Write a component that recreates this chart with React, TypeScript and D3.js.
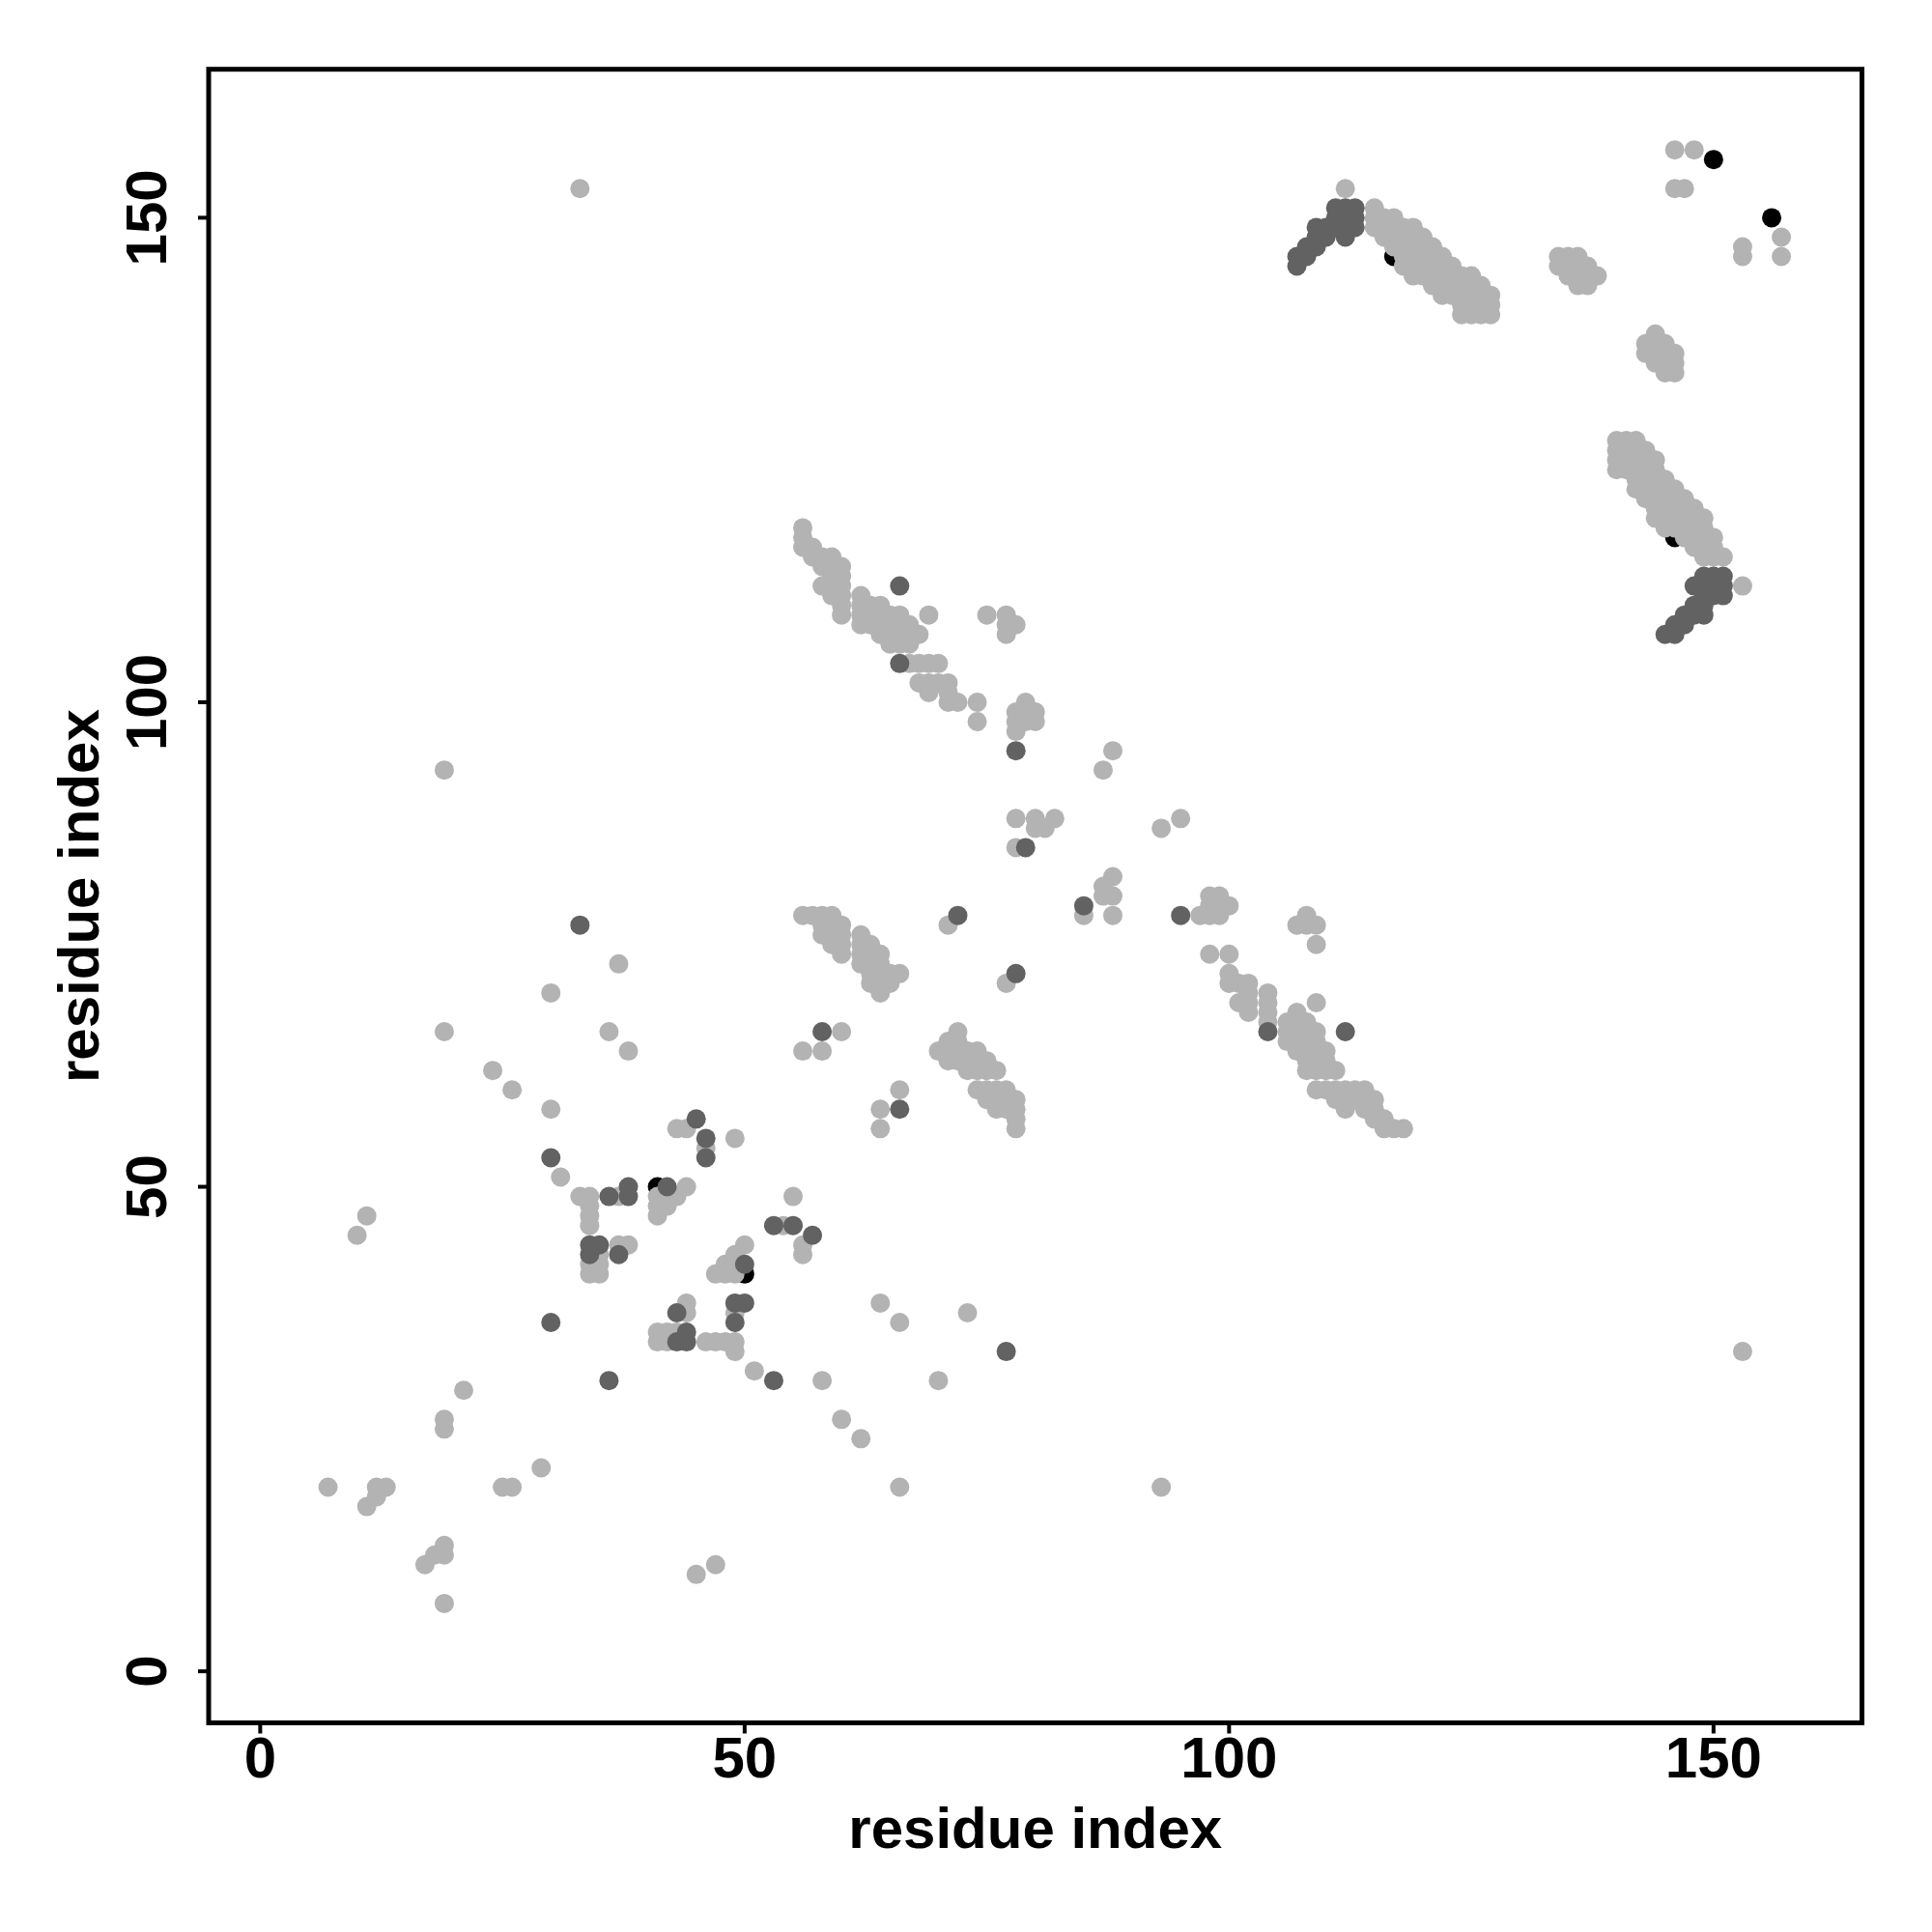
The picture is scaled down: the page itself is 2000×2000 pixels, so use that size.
import * as d3 from "d3";

// residue pairs [i, j] with i < j; a contact map shows each pair at (i, j) and at (j, i)
const contactsLight: [number, number][] = [
  [7, 19], [11, 17], [12, 18], [12, 19], [13, 19], [19, 25], [19, 26], [21, 29], [10, 45], [11, 47],
  [19, 66], [19, 93], [24, 62], [26, 60], [30, 58], [30, 70], [31, 51], [33, 49], [34, 49], [34, 48],
  [34, 47], [34, 46], [33, 153], [34, 41], [35, 41], [34, 42], [35, 42], [35, 43], [37, 44], [38, 44],
  [37, 49], [36, 66], [37, 73], [38, 64], [41, 47], [41, 48], [42, 48], [41, 49], [42, 49], [43, 49],
  [44, 50], [43, 56], [44, 56], [46, 54], [49, 55],
  [56, 78], [57, 78], [58, 78], [59, 78], [58, 77], [59, 77], [60, 77], [58, 76], [59, 76], [60, 76],
  [59, 75], [60, 75], [60, 74], [62, 76], [62, 75], [63, 75], [62, 74], [63, 74], [64, 74], [62, 73],
  [63, 73], [64, 73], [63, 72], [64, 72], [65, 72], [66, 72], [63, 71], [64, 71], [65, 71], [64, 70],
  [56, 64], [58, 64], [60, 66], [71, 77],
  [56, 118], [56, 117], [56, 116], [57, 116], [57, 115], [58, 115], [59, 115], [58, 114], [59, 114], [60, 114],
  [59, 113], [60, 113], [58, 112], [59, 112], [60, 112], [59, 111], [60, 111], [60, 110], [60, 109],
  [62, 111], [62, 110], [62, 109], [62, 108], [63, 110], [63, 109], [63, 108], [64, 110], [64, 109], [64, 108],
  [64, 107], [65, 109], [65, 108], [65, 107], [65, 106], [66, 109], [66, 108], [66, 107], [66, 106], [67, 108],
  [67, 107], [67, 106], [68, 107],
  [67, 104], [68, 104], [69, 104], [70, 104], [68, 102], [69, 102], [70, 102], [71, 102], [69, 101], [71, 101],
  [71, 100], [72, 100], [69, 109], [74, 100], [74, 98],
  [75, 109], [77, 109], [77, 108], [78, 108], [77, 107],
  [79, 100], [78, 99], [79, 99], [80, 99], [78, 98], [79, 98], [80, 98], [78, 97],
  [88, 95], [87, 93], [78, 88], [80, 88], [82, 88], [80, 87], [81, 87], [78, 85],
  [112, 153], [112, 150], [146, 157], [148, 157], [146, 153], [147, 153],
  [134, 146], [135, 146], [136, 146], [134, 145], [135, 145], [136, 145], [137, 145], [135, 144], [136, 144],
  [137, 144], [138, 144], [136, 143], [137, 143],
  [115, 151], [115, 150], [115, 149],
  [116, 150], [116, 149], [116, 148],
  [117, 150], [117, 149], [117, 148], [117, 147],
  [118, 149], [118, 148], [118, 147], [118, 146], [118, 145],
  [119, 149], [119, 148], [119, 147], [119, 146], [119, 145], [119, 144],
  [120, 148], [120, 147], [120, 146], [120, 145], [120, 144],
  [121, 147], [121, 146], [121, 145], [121, 144], [121, 143],
  [122, 146], [122, 145], [122, 144], [122, 143], [122, 142],
  [123, 145], [123, 144], [123, 143], [123, 142],
  [124, 144], [124, 143], [124, 142], [124, 141], [124, 140],
  [125, 144], [125, 143], [125, 142], [125, 141], [125, 140],
  [126, 143], [126, 142], [126, 141], [126, 140],
  [127, 142], [127, 141], [127, 140],
];

const contactsDark: [number, number][] = [
  [30, 36], [30, 53], [33, 77], [34, 43], [34, 44], [35, 44], [37, 43], [36, 49], [38, 49], [38, 50],
  [42, 50], [45, 57], [46, 53], [46, 55], [58, 66], [66, 104], [66, 112], [72, 78], [78, 95], [79, 85],
  [107, 145], [107, 146], [108, 146], [108, 147], [109, 147], [109, 148], [109, 149], [110, 148], [110, 149],
  [111, 149], [111, 150], [111, 151], [112, 151], [113, 151], [113, 150], [113, 149], [112, 149], [112, 148],
];

const contactsBlack: [number, number][] = [[41, 50], [117, 146], [150, 156]];

const TICKS = [0, 50, 100, 150];
const AXIS_TITLE = "residue index";

const W = 2000, H = 2000;
const BOX = { l: 216, r: 1927.5, t: 71.7, b: 1783.5 };
const DOMAIN: [number, number] = [-5.32, 165.32];
const FONT = "'Liberation Sans', Arial, Helvetica, sans-serif";

export default function App() {
  const x = d3.scaleLinear().domain(DOMAIN).range([BOX.l, BOX.r]);
  const y = d3.scaleLinear().domain(DOMAIN).range([BOX.b, BOX.t]);
  const R = 10;
  const layer = (pairs: [number, number][], fill: string, tag: string) =>
    pairs.flatMap(([i, j], k) => [
      <circle key={`${tag}${k}a`} cx={x(i)} cy={y(j)} r={R} fill={fill} />,
      <circle key={`${tag}${k}b`} cx={x(j)} cy={y(i)} r={R} fill={fill} />,
    ]);
  const midX = (BOX.l + BOX.r) / 2, midY = (BOX.t + BOX.b) / 2;

  return (
    <svg width={W} height={H} viewBox={`0 0 ${W} ${H}`}
      style={{ position: "absolute", left: 0, top: 0, display: "block", background: "#fff" }}
      fontFamily={FONT} fontWeight="bold">
      <rect x={0} y={0} width={W} height={H} fill="#fff" />
      {layer(contactsBlack, "#000000", "k")}
      {layer(contactsLight, "#b3b3b3", "l")}
      {layer(contactsDark, "#626262", "d")}
      <rect x={BOX.l} y={BOX.t} width={BOX.r - BOX.l} height={BOX.b - BOX.t} fill="none" stroke="#000" strokeWidth={5} />
      {TICKS.map(t => (
        <g key={`x${t}`}>
          <line x1={x(t)} x2={x(t)} y1={BOX.b} y2={BOX.b + 11} stroke="#000" strokeWidth={4} />
          <text x={x(t)} y={1840} textAnchor="middle" fontSize={60}>{t}</text>
        </g>
      ))}
      {TICKS.map(t => (
        <g key={`y${t}`}>
          <line x1={BOX.l - 11} x2={BOX.l} y1={y(t)} y2={y(t)} stroke="#000" strokeWidth={4} />
          <text transform={`translate(172 ${y(t)}) rotate(-90)`} textAnchor="middle" fontSize={60}>{t}</text>
        </g>
      ))}
      <text x={midX} y={1913} textAnchor="middle" fontSize={60}>{AXIS_TITLE}</text>
      <text transform={`translate(102 ${midY}) rotate(-90)`} textAnchor="middle" fontSize={60}>{AXIS_TITLE}</text>
    </svg>
  );
}
